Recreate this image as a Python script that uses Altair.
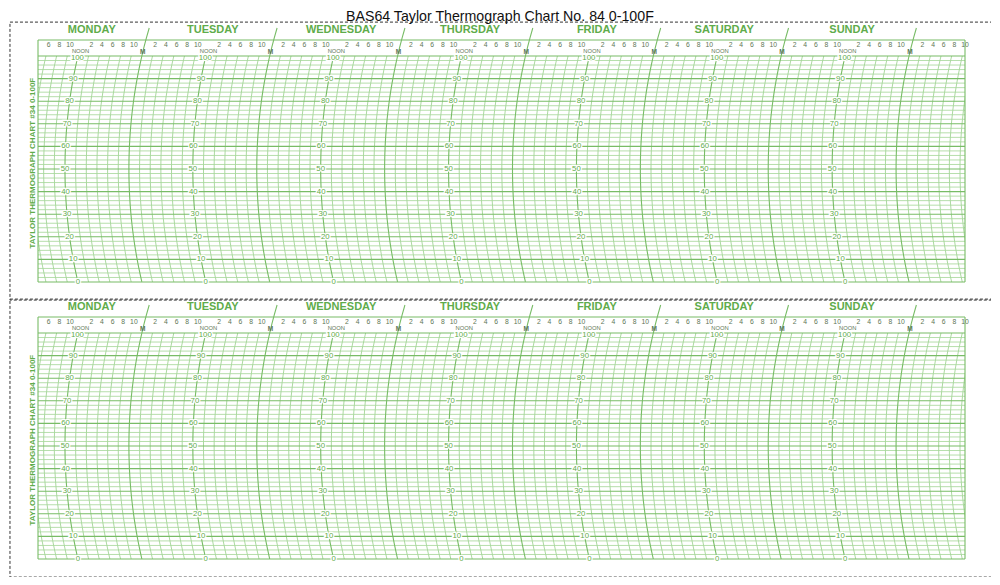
import math
import altair as alt
import pandas as pd

# ---------------- chart content ----------------
TITLE = "BAS64 Taylor Thermograph Chart No. 84 0-100F"
SIDE_TEXT = "TAYLOR  THERMOGRAPH  CHART  #34  0-100F"
DAYS = ["MONDAY", "TUESDAY", "WEDNESDAY", "THURSDAY", "FRIDAY", "SATURDAY", "SUNDAY"]
DAY_LABEL_HOURS = [14.1, 36.8, 60.9, 85.1, 108.9, 132.8, 156.8]
NOON_HOURS = [12, 36, 60, 84, 108, 132, 156]
MIDNIGHT_HOURS = [24, 48, 72, 96, 120, 144, 168]
HOUR_TICKS = [h for h in range(6, 179, 2) if h % 12]
HOUR_TICK_LABELS = [str((h - 1) % 12 + 1) for h in HOUR_TICKS]
TEMP_MAJOR = [0, 10, 20, 30, 40, 50, 60, 70, 80, 90, 100]
TEMP_LABELS = ["0", "10", "20", "30", "40", "50", "60", "70", "80", "90", "100"]
TEMP_MINOR = [t for t in range(0, 101, 2) if t % 10]
MINOR_ARCS = [h for h in range(6, 184, 2) if h not in NOON_HOURS + MIDNIGHT_HOURS]
PANELS = [0, 1]

# ---------------- chart frame (data units: hours / degrees F) ----------------
HOUR_MIN, HOUR_MAX = 4, 178
TEMP_MIN, TEMP_MAX = 0, 100
PANEL_SHIFT = 122.57          # second copy of the chart sits this many degrees lower
HEADER_TOP = 107.1
HOUR_ROW = 104.9
NOON_ROW = 102.3
M_ROW = 101.6
DAY_ROW = 111.7
M_LINE_TOP = 112.4
BORDER = dict(x0=-1.26, x1=183.05, y0=-8.0, y1=115.0)
TITLE_POS = (90.7, 115.45)
SIDE_POS = (3.0, 52.6)

# pen-arm arc of the time lines
ARC_R = 93.8      # radius in hours
ARC_K = 0.4242    # hours per degree
ARC_CT = 50.0     # arc centre temperature


def arc_dev(T):
    return ARC_R - math.sqrt(ARC_R ** 2 - ((T - ARC_CT) * ARC_K) ** 2)


def arc_x(h, T):
    return h - (arc_dev(HOUR_ROW) - arc_dev(T))


def panels(rows):
    out = []
    for p in PANELS:
        for r in rows:
            rr = dict(r)
            rr["id"] = f"{p}-{r.get('id', '')}"
            for k in ("y", "y2"):
                if k in rr:
                    rr[k] = rr[k] - p * PANEL_SHIFT
            out.append(rr)
    return pd.DataFrame(out)


T_SAMPLES = list(range(0, 101, 2))

minor_arcs = panels([{"id": h, "t": arc_x(h, T), "y": T} for h in MINOR_ARCS for T in T_SAMPLES])
noon_arcs = panels([{"id": h, "t": arc_x(h, T), "y": T} for h in NOON_HOURS for T in T_SAMPLES])
m_arcs = panels([{"id": h, "t": arc_x(h, T), "y": T}
                 for h in MIDNIGHT_HOURS for T in T_SAMPLES + [104, 108, M_LINE_TOP]])
minor_h = panels([{"x0": HOUR_MIN, "x1": HOUR_MAX, "y": T} for T in TEMP_MINOR])
major_h = panels([{"x0": HOUR_MIN, "x1": HOUR_MAX, "y": T} for T in TEMP_MAJOR])
header_top = panels([{"x0": HOUR_MIN, "x1": HOUR_MAX, "y": HEADER_TOP}])
edges = panels([{"t": HOUR_MIN, "y": TEMP_MIN, "y2": HEADER_TOP},
                {"t": HOUR_MAX, "y": TEMP_MIN, "y2": HEADER_TOP}])
border = panels([{"x0": BORDER["x0"], "x1": BORDER["x1"], "y": BORDER["y0"], "y2": BORDER["y1"]}])
hour_lbl = panels([{"t": h, "y": HOUR_ROW, "label": s} for h, s in zip(HOUR_TICKS, HOUR_TICK_LABELS)])
noon_lbl = panels([{"t": h, "y": NOON_ROW, "label": "NOON"} for h in NOON_HOURS])
m_lbl = panels([{"t": arc_x(h, M_ROW), "y": M_ROW, "label": "M"} for h in MIDNIGHT_HOURS])
temp_lbl = panels([{"t": arc_x(h, min(T, 99.0)), "y": min(T, 99.0), "label": s}
                   for h in NOON_HOURS for T, s in zip(TEMP_MAJOR, TEMP_LABELS)])
day_lbl = panels([{"t": t, "y": DAY_ROW, "label": d} for t, d in zip(DAY_LABEL_HOURS, DAYS)])
side_lbl = panels([{"t": SIDE_POS[0], "y": SIDE_POS[1], "label": SIDE_TEXT}])
title_df = pd.DataFrame([{"t": TITLE_POS[0], "y": TITLE_POS[1], "label": TITLE}])

XS = alt.Scale(domain=[HOUR_MIN, HOUR_MAX], nice=False, zero=False)
YS = alt.Scale(domain=[TEMP_MIN - PANEL_SHIFT, TEMP_MAX], nice=False, zero=False)


def X(f):
    return alt.X(f, type="quantitative", scale=XS, axis=None)


def Y(f):
    return alt.Y(f, type="quantitative", scale=YS, axis=None)


MINOR_C = "#a3d596"
MAJOR_C = "#78bc66"
TEXT_G = "#5fac4b"
HOUR_C = "#5e7655"

layers = [
    alt.Chart(minor_h).mark_rule(color=MINOR_C, strokeWidth=0.8).encode(x=X("x0"), x2="x1", y=Y("y")),
    alt.Chart(minor_arcs).mark_line(color=MINOR_C, strokeWidth=0.9, clip=True).encode(
        x=X("t"), y=Y("y"), detail="id:N", order="y:Q"),
    alt.Chart(major_h).mark_rule(color=MAJOR_C, strokeWidth=1.1).encode(x=X("x0"), x2="x1", y=Y("y")),
    alt.Chart(noon_arcs).mark_line(color=MAJOR_C, strokeWidth=1.1).encode(
        x=X("t"), y=Y("y"), detail="id:N", order="y:Q"),
    alt.Chart(m_arcs).mark_line(color=MAJOR_C, strokeWidth=1.1).encode(
        x=X("t"), y=Y("y"), detail="id:N", order="y:Q"),
    alt.Chart(header_top).mark_rule(color=MAJOR_C, strokeWidth=1.1).encode(x=X("x0"), x2="x1", y=Y("y")),
    alt.Chart(edges).mark_rule(color=MAJOR_C, strokeWidth=1.1).encode(x=X("t"), y=Y("y"), y2="y2"),
    alt.Chart(border).mark_rect(fillOpacity=0, stroke="#333333", strokeWidth=1, strokeDash=[3, 2]).encode(
        x=X("x0"), x2="x1", y=Y("y"), y2="y2"),
    alt.Chart(hour_lbl).mark_text(font="Liberation Sans", fontSize=6.8, color=HOUR_C).encode(
        x=X("t"), y=Y("y"), text="label:N"),
    alt.Chart(noon_lbl).mark_text(font="Liberation Sans", fontSize=5.8, color=HOUR_C).encode(
        x=X("t"), y=Y("y"), text="label:N"),
    alt.Chart(m_lbl).mark_text(font="Liberation Sans", fontSize=6.5, fontWeight="bold", color=HOUR_C).encode(
        x=X("t"), y=Y("y"), text="label:N"),
    alt.Chart(temp_lbl).mark_text(font="Liberation Sans", fontSize=7.8, stroke="white", strokeWidth=2.5,
                                  color="white").encode(x=X("t"), y=Y("y"), text="label:N"),
    alt.Chart(temp_lbl).mark_text(font="Liberation Sans", fontSize=7.8, color=TEXT_G).encode(
        x=X("t"), y=Y("y"), text="label:N"),
    alt.Chart(day_lbl).mark_text(font="Liberation Sans", fontSize=11, fontWeight="bold", color=TEXT_G).encode(
        x=X("t"), y=Y("y"), text="label:N"),
    alt.Chart(side_lbl).mark_text(font="Liberation Sans", fontSize=8, fontWeight="bold", color=TEXT_G,
                                  angle=270).encode(x=X("t"), y=Y("y"), text="label:N"),
    alt.Chart(title_df).mark_text(font="Liberation Sans", fontSize=14.2, baseline="alphabetic",
                                  color="#111111").encode(x=X("t"), y=Y("y"), text="label:N"),
]

chart = alt.layer(*layers).properties(
    width=927, height=503,
    autosize=alt.AutoSizeParams(type="none"),
    padding={"left": 30, "top": 48, "right": 26, "bottom": 18},
    background="white",
).configure_view(strokeWidth=0)

chart.save("out.html", embed_options={"renderer": "svg", "actions": False})
